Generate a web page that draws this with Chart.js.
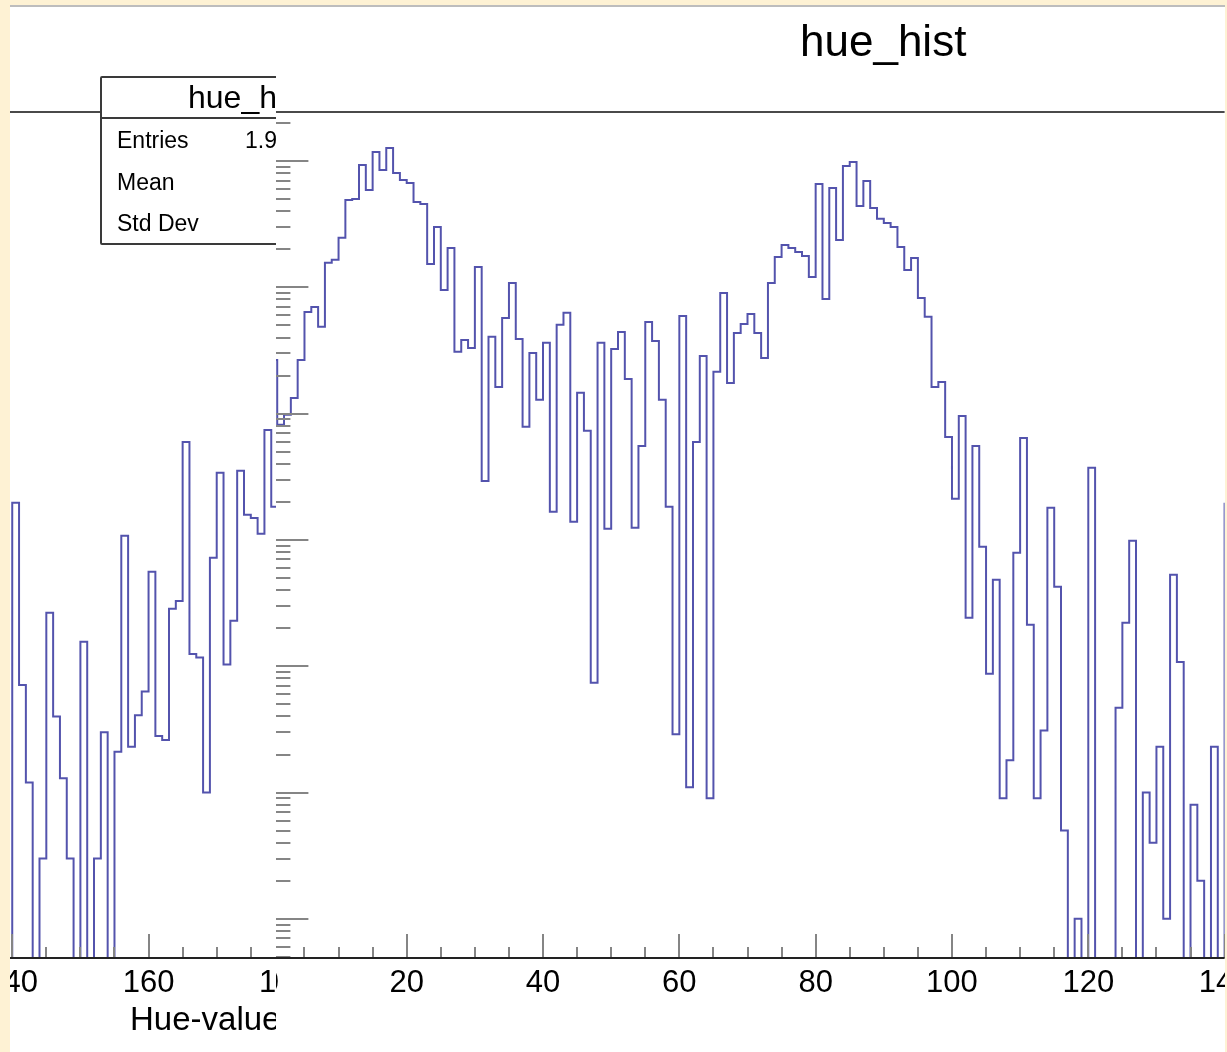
<!DOCTYPE html>
<html>
<head>
<meta charset="utf-8">
<script src="https://cdn.jsdelivr.net/npm/chart.js@4.4.1/dist/chart.umd.min.js"></script>
<style>
  html, body { margin: 0; padding: 0; }
  body { width: 1227px; height: 1052px; background: #fef2d4; position: relative; overflow: hidden;
         font-family: "Liberation Sans", Arial, Helvetica, sans-serif; }
  #panel { position: absolute; left: 10px; top: 5px; width: 1215px; height: 1047px; background: #fff;
           border-top: 2px solid #bdbdbd; box-sizing: border-box; }
  #rightCanvas { position: absolute; left: 0; top: 0; }
  #title { position: absolute; left: 800px; top: 19px; font-size: 44px; line-height: 44px; color: #000; white-space: nowrap; }
  #leftWrap { position: absolute; left: 10px; top: 7px; width: 266px; height: 1045px; overflow: hidden; background: #fff; }
  #leftInner { position: absolute; left: -10px; top: -7px; width: 1227px; height: 1052px; }
  #leftCanvas { position: absolute; left: 0; top: 0; }
  .abs { position: absolute; white-space: nowrap; color: #000; }
  #statsBox { left: 100px; top: 76px; width: 330px; height: 169px; border: 2px solid #3a3a3a; border-radius: 2px;
              background: #fff; box-sizing: border-box; }
  #statsDiv { left: 100px; top: 117px; width: 330px; height: 2px; background: #3a3a3a; }
  #statsTitle { left: 188px; top: 81px; font-size: 32px; line-height: 32px; }
  .row { font-size: 23px; line-height: 23px; }
  #xTitle { left: 130px; top: 1002px; font-size: 33px; line-height: 33px; }
</style>
</head>
<body>
<div id="panel"></div>
<canvas id="rightCanvas" width="1225" height="1052"></canvas>
<div id="title">hue_hist</div>
<div id="leftWrap">
  <div id="leftInner">
    <canvas id="leftCanvas" width="300" height="1052"></canvas>
    <div class="abs" id="statsBox"></div>
    <div class="abs" id="statsDiv"></div>
    <div class="abs" id="statsTitle">hue_hist</div>
    <div class="abs row" style="left:117px; top:129px;">Entries</div>
    <div class="abs row" style="left:245px; top:129px;">1.9</div>
    <div class="abs row" style="left:117px; top:171px;">Mean</div>
    <div class="abs row" style="left:117px; top:212px;">Std Dev</div>
    <div class="abs" id="xTitle">Hue-value</div>
  </div>
</div>
<script>
// ---- data: hue histogram, 180 bins of width 1 (hue 0..179), counts per bin ----
const binEdges = Array.from({ length: 181 }, (_, i) => i);
const hueCounts = [
  26600, 8150, 9770, 13300, 26600, 63800, 69900, 48600, 156000, 165000,
  246000, 491000, 500000, 930000, 590000, 1178000, 849000, 1267000, 804000, 707000,
  670000, 474000, 457000, 153000, 300000, 95300, 204800, 30800, 38300, 33100,
  144900, 2930, 40500, 16270, 57200, 108200, 39000, 7850, 30200, 12840,
  36300, 1667, 50400, 62700, 1390, 14590, 7300, 74, 36300, 1223,
  32500, 44300, 18820, 1246, 5550, 53200, 37600, 12840, 1826, 29,
  59300, 11, 5970, 28600, 9, 21400, 90200, 17500, 43500, 51300,
  61500, 43500, 27600, 108200, 173900, 216400, 204800, 190500, 177100, 120800,
  658000, 80900, 611000, 237000, 913000, 982000, 440000, 695000, 425000, 348000,
  323000, 300000, 208600, 137200, 170700, 82400, 58300, 16270, 17820, 6540,
  2113, 9590, 242, 5550, 881, 87, 483, 9, 18, 790,
  6420, 213, 9, 31, 1793, 425, 5, 0, 1, 0,
  3718, 0, 0, 0, 47, 221, 983, 0, 10, 4,
  23, 1, 529, 108, 0, 8, 2, 0, 23, 0,
  1965, 71, 12, 0, 3, 265, 40, 13, 3, 0,
  156, 0, 3, 30, 0, 21, 1077, 23, 41, 63,
  559, 28, 26, 285, 329, 5970, 125, 117, 10, 721,
  3394, 103, 229, 3520, 1579, 1494, 1117, 7430, 1826, 2800
];
const xMajorTicks = [0, 20, 40, 60, 80, 100, 120, 140, 160, 180];
const xMinorStep = 5;
const yDecades = [0.1, 1, 10, 100, 1000, 10000, 100000, 1000000];
const yMultipliers = [1, 2, 3, 4, 5, 6, 7, 8, 9];

// ---- styling / layout ----
const Y_MIN = 0.49, Y_MAX = 2.44e6;
const FONT = '"Liberation Sans", Arial, Helvetica, sans-serif';
const LINE_COLOR = '#5353ad';

// histogram outline points (low edge of each bin, last point closes final bin)
const histPoints = binEdges.map((e, i) => {
  const c = i < hueCounts.length ? hueCounts[i] : hueCounts[hueCounts.length - 1];
  return { x: e, y: Math.max(c, Y_MIN) };
});

const rootAxes = {
  id: 'rootAxes',
  afterDatasetsDraw(chart, args, opts) {
    const { ctx, chartArea: a } = chart;
    const x = chart.scales.x, y = chart.scales.y;
    ctx.save();
    // tick marks (drawn inward, ROOT style)
    ctx.strokeStyle = '#858585';
    ctx.lineWidth = 2;
    ctx.beginPath();
    for (let v = Math.ceil(x.min / xMinorStep) * xMinorStep; v <= x.max + 1e-9; v += xMinorStep) {
      const px = Math.round(x.getPixelForValue(v));
      const len = xMajorTicks.includes(v) ? 24 : 11;
      ctx.moveTo(px, a.bottom);
      ctx.lineTo(px, a.bottom - len);
    }
    if (opts.yTicks) {
      for (const d of yDecades) {
        for (const m of yMultipliers) {
          const v = d * m;
          if (v < y.min || v > y.max) continue;
          const py = Math.round(y.getPixelForValue(v));
          const len = m === 1 ? 38 : 20;
          ctx.moveTo(a.left, py);
          ctx.lineTo(a.left + len, py);
        }
      }
    }
    ctx.stroke();
    // frame top and x-axis line
    ctx.lineWidth = 2;
    ctx.strokeStyle = '#4a4a4a';
    ctx.beginPath();
    ctx.moveTo(a.left, a.top);
    ctx.lineTo(a.right, a.top);
    ctx.stroke();
    ctx.strokeStyle = '#222';
    ctx.beginPath();
    ctx.moveTo(a.left, a.bottom);
    ctx.lineTo(a.right, a.bottom);
    ctx.stroke();
    ctx.restore();
  }
};

function makeHist(canvasId, xMin, xMax, padLeft, padRight, showYTicks) {
  return new Chart(document.getElementById(canvasId), {
    type: 'line',
    data: {
      datasets: [{
        data: histPoints,
        stepped: 'before',
        borderColor: LINE_COLOR,
        borderWidth: 2,
        pointRadius: 0,
        fill: false,
        tension: 0,
        borderJoinStyle: 'miter'
      }]
    },
    options: {
      responsive: false,
      animation: false,
      devicePixelRatio: 1,
      events: [],
      layout: { padding: { left: padLeft, right: padRight, top: 112, bottom: 0 } },
      plugins: {
        legend: { display: false },
        tooltip: { enabled: false },
        rootAxes: { yTicks: showYTicks }
      },
      scales: {
        x: {
          type: 'linear', min: xMin, max: xMax, bounds: 'data',
          grid: { display: false }, border: { display: false },
          ticks: { font: { family: FONT, size: 31 }, color: '#000', padding: -1,
                   maxRotation: 0, minRotation: 0, autoSkip: false },
          afterBuildTicks: s => { s.ticks = xMajorTicks.filter(v => v >= s.min && v <= s.max).map(v => ({ value: v })); },
          afterFit: s => { s.height = 94; s.paddingLeft = 0; s.paddingRight = 0; }
        },
        y: { type: 'logarithmic', min: Y_MIN, max: Y_MAX, bounds: 'data', display: false }
      }
    },
    plugins: [rootAxes]
  });
}

// right view: hue 0..140 ; left view: hue 139..180 (cropped)
makeHist('rightCanvas', 0, 140, 270.4, 0.4, true);
makeHist('leftCanvas', 139, 180, 5.42, 15.12, false);
</script>
</body>
</html>
